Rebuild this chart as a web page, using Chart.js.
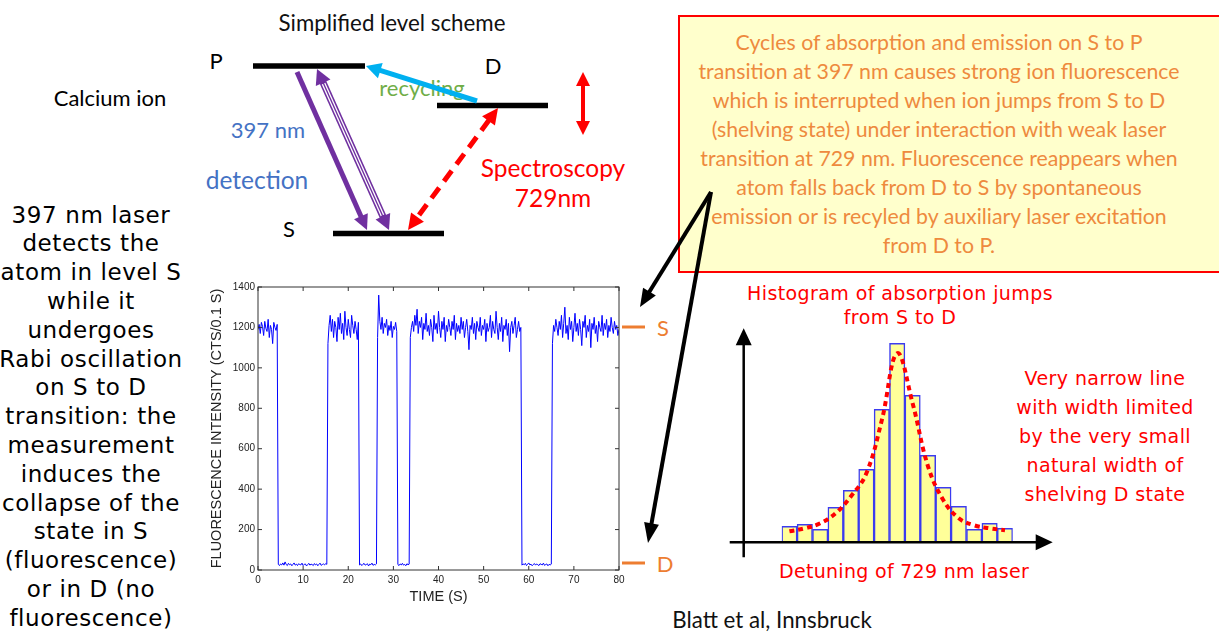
<!DOCTYPE html>
<html>
<head>
<meta charset="utf-8">
<script src="https://cdn.jsdelivr.net/npm/chart.js@4.4.0/dist/chart.umd.min.js"></script>
<style>
  html, body { margin: 0; padding: 0; background: #fff; }
  #slide { position: relative; width: 1219px; height: 632px; overflow: hidden; font-family: Lato, 'Open Sans', sans-serif; }
  .t { position: absolute; transform: translate(-50%, -50%); white-space: nowrap; }
  .block { position: absolute; text-align: center; white-space: nowrap; }
  .comic { font-family: 'DejaVu Sans', sans-serif; }
  #fluorBox { position: absolute; left: 200px; top: 278px; width: 430px; height: 335px; }
  #histBox { position: absolute; left: 725px; top: 320px; width: 340px; height: 245px; }
  #note { position: absolute; left: 678px; top: 15px; width: 560px; height: 258px; background: #ffffcc; border: 2px solid #ff0000; box-sizing: border-box; }
  #overlay { position: absolute; left: 0; top: 0; pointer-events: none; }
</style>
</head>
<body>
<div id="slide">
  <div id="note"></div>
  <div class="block" style="left:639px; top:28px; width:600px; line-height:29px; font-size:21.3px; color:#ee8a3e;">
    Cycles of absorption and emission on S to P<br>
    transition at 397 nm causes strong ion fluorescence<br>
    which is interrupted when ion jumps from S to D<br>
    (shelving state) under interaction with weak laser<br>
    transition at 729 nm. Fluorescence reappears when<br>
    atom falls back from D to S by spontaneous<br>
    emission or is recyled by auxiliary laser excitation<br>
    from D to P.
  </div>

  <div class="t" style="left:392px; top:22px; font-size:22.3px; color:#111;">Simplified level scheme</div>
  <div class="t" style="left:216px; top:60px; font-size:22px;">P</div>
  <div class="t" style="left:493px; top:65px; font-size:22px;">D</div>
  <div class="t" style="left:289px; top:228px; font-size:22px;">S</div>
  <div class="t" style="left:110px; top:97px; font-size:22px;">Calcium ion</div>
  <div class="t" style="left:422px; top:87px; font-size:22px; color:#70ad47;">recycling</div>
  <div class="t" style="left:268px; top:129px; font-size:22px; color:#4472c4;">397 nm</div>
  <div class="t" style="left:257px; top:179px; font-size:24.5px; color:#4472c4;">detection</div>
  <div class="t" style="left:553px; top:167px; font-size:24.5px; color:#ff0000;">Spectroscopy</div>
  <div class="t" style="left:553px; top:197px; font-size:24.5px; color:#ff0000;">729nm</div>

  <div class="block comic" style="left:-9px; top:200.6px; width:200px; line-height:28.8px; font-size:23px; letter-spacing:0.6px; color:#000;">
    397 nm laser<br>detects the<br>atom in level S<br>while it<br>undergoes<br>Rabi oscillation<br>on S to D<br>transition: the<br>measurement<br>induces the<br>collapse of the<br>state in S<br>(fluorescence)<br>or in D (no<br>fluorescence)
  </div>

  <div class="block comic" style="left:740px; top:280.7px; width:320px; line-height:24px; font-size:19px; letter-spacing:0.4px; color:#ff0000;">
    Histogram of absorption jumps<br>from S to D
  </div>
  <div class="block comic" style="left:995px; top:363.5px; width:220px; line-height:29px; font-size:19px; letter-spacing:0.4px; color:#ff0000;">
    Very narrow line<br>with width limited<br>by the very small<br>natural width of<br>shelving D state
  </div>
  <div class="t comic" style="left:904px; top:571px; font-size:19px; letter-spacing:0.3px; color:#ff0000;">Detuning of 729 nm laser</div>
  <div class="t" style="left:772px; top:619px; font-size:22.3px; color:#111;">Blatt et al, Innsbruck</div>

  <div class="t" style="left:663px; top:327px; font-size:22px; color:#ed7d31;">S</div>
  <div class="t" style="left:665px; top:563px; font-size:22px; color:#ed7d31;">D</div>

  <div id="fluorBox"><canvas id="fluorChart"></canvas></div>
  <div id="histBox"><canvas id="histChart"></canvas></div>

  <svg id="overlay" width="1219" height="632" xmlns="http://www.w3.org/2000/svg"></svg>
</div>

<script>
// Fluorescence trace, counts per 0.1 s, sampled every 0.25 s
const sampleStep = 0.25;
const brightA = [1190,1215,1170,1225,1205,1160,1230,1195,1180,1240,1150,1210,1190,1120,1225,1200,1185,1215];
const darkA = [28,22,30,25,35,24,40,27,22,33,26,30,21,28,35,24,29,22,31,27,25,34,22,28,30,20,26,33,24,29,27,22,32,25,30,21,28,34,23,27,30,25,32,28];
const brightB = [1120,1210,1260,1180,1240,1150,1230,1200,1130,1250,1190,1270,1170,1220,1140,1280,1200,1160,1240,1190,1150,1260,1210,1170,1230,1190,1140,1225];
const darkB = [25,30,22,28,33,24,27,31,20,29,26,34,23,28,25,30];
const brightC = [1150,1360,1230,1190,1250,1170,1220,1200,1240,1160,1210,1185,1230,1150,1205,1190,1225,1180];
const darkC = [27,22,30,25,33,24,28,21,31,26,29];
const brightD = [
  1150,1200,1230,1180,1260,1210,1290,1170,1230,1200,1250,1140,1220,1190,1270,1180,1210,1160,1240,1200,
  1130,1260,1190,1220,1170,1280,1200,1150,1230,1190,1250,1130,1210,1180,1240,1200,1160,1230,1190,1260,
  1140,1220,1180,1210,1170,1250,1190,1230,1150,1200,1240,1180,1090,1210,1190,1250,1170,1220,1140,1230,
  1200,1180,1250,1160,1210,1190,1240,1130,1220,1180,1200,1260,1150,1230,1190,1170,1280,1200,1140,1220,
  1180,1250,1130,1210,1190,1240,1160,1220,1080,1200,1230,1170,1210,1250,1150,1190,1230,1180,1200];
const darkD = [24,30,26,33,22,28,35,25,29,21,27,32,24,30,26,22,31,28,25,34,23,27,30,21,28,25,29];
const brightE = [
  1120,1210,1180,1240,1200,1160,1230,1190,1260,1150,1220,1300,1170,1210,1140,1250,1190,1230,1130,1200,
  1270,1180,1220,1160,1240,1190,1110,1230,1200,1260,1150,1210,1180,1240,1100,1220,1190,1250,1170,1210,
  1130,1230,1200,1180,1260,1160,1220,1190,1240,1150,1210,1180,1250,1200,1170,1230,1190,1210,1160,1190];
const yTicks = [0, 200, 400, 600, 800, 1000, 1200, 1400];
const xTicks = [0, 10, 20, 30, 40, 50, 60, 70, 80];

// Histogram of jumps vs detuning
const detuningBins = ['-7','-6','-5','-4','-3','-2','-1','0','1','2','3','4','5','6','7'];
const jumpCounts = [16, 18, 13, 35, 52, 73, 133, 199, 147, 87, 55, 36, 13, 19, 14];
const fitCurve = [11, 14, 19, 29, 46, 69, 122, 189, 139, 76, 42, 24, 17, 14, 12];

Chart.defaults.font.family = "'Liberation Sans', Arial, sans-serif";
Chart.defaults.color = '#222';

const fluorCounts = [].concat(brightA, darkA, brightB, darkB, brightC, darkC, brightD, darkD, brightE);
const fluorPoints = fluorCounts.map((c, i) => ({ x: i * sampleStep, y: c }));

// frame plus inward ticks like the original matlab-style plot
const framePlugin = {
  id: 'frame',
  afterDraw(chart) {
    const { ctx, chartArea: a, scales } = chart;
    ctx.save();
    ctx.strokeStyle = '#333';
    ctx.lineWidth = 1;
    ctx.strokeRect(a.left, a.top, a.right - a.left, a.bottom - a.top);
    const tl = 4;
    ctx.beginPath();
    yTicks.forEach(v => {
      const y = scales.y.getPixelForValue(v);
      ctx.moveTo(a.left, y); ctx.lineTo(a.left + tl, y);
      ctx.moveTo(a.right, y); ctx.lineTo(a.right - tl, y);
    });
    xTicks.forEach(v => {
      const x = scales.x.getPixelForValue(v);
      ctx.moveTo(x, a.bottom); ctx.lineTo(x, a.bottom - tl);
      ctx.moveTo(x, a.top); ctx.lineTo(x, a.top + tl);
    });
    ctx.stroke();
    ctx.restore();
  }
};

new Chart(document.getElementById('fluorChart').getContext('2d'), {
  type: 'line',
  data: {
    datasets: [{
      data: fluorPoints,
      borderColor: '#0000ff',
      borderWidth: 1,
      pointRadius: 0,
      tension: 0
    }]
  },
  options: {
    responsive: true,
    maintainAspectRatio: false,
    animation: false,
    layout: { padding: { left: 0, top: 8, right: 11, bottom: 0 } },
    plugins: { legend: { display: false }, tooltip: { enabled: false } },
    scales: {
      x: {
        type: 'linear',
        min: 0,
        max: 80,
        afterFit: s => { s.height = 43; },
        afterBuildTicks: s => { s.ticks = xTicks.map(v => ({ value: v })); },
        grid: { display: false, drawTicks: false },
        border: { display: false },
        ticks: { padding: 4, font: { size: 10 }, color: '#222', callback: v => String(v) },
        title: { display: true, text: 'TIME (S)', font: { size: 14.5 }, color: '#222', padding: { top: 0, bottom: 7 } }
      },
      y: {
        min: 0,
        max: 1400,
        afterFit: s => { s.width = 58; },
        afterBuildTicks: s => { s.ticks = yTicks.map(v => ({ value: v })); },
        grid: { display: false, drawTicks: false },
        border: { display: false },
        ticks: { padding: 3, font: { size: 10 }, color: '#222', callback: v => String(v) },
        title: { display: true, text: 'FLUORESCENCE INTENSITY (CTS/0.1 S)', font: { size: 14.5 }, color: '#222', padding: { top: 8, bottom: 0 } }
      }
    }
  },
  plugins: [framePlugin]
});

// arrowed axes of the sketched histogram
const histAxes = {
  id: 'histAxes',
  afterDraw(chart) {
    const { ctx, chartArea: a } = chart;
    const base = chart.scales.y.getPixelForValue(0);
    const ax = a.left - 38;
    ctx.save();
    ctx.strokeStyle = '#000';
    ctx.fillStyle = '#000';
    ctx.lineWidth = 2.5;
    ctx.beginPath();
    ctx.moveTo(ax, base + 15); ctx.lineTo(ax, a.top + 2);
    ctx.moveTo(a.left - 52, base); ctx.lineTo(a.right + 26, base);
    ctx.stroke();
    ctx.beginPath();
    ctx.moveTo(ax, a.top - 14); ctx.lineTo(ax - 8, a.top + 3); ctx.lineTo(ax + 8, a.top + 3); ctx.closePath();
    ctx.moveTo(a.right + 40, base); ctx.lineTo(a.right + 23, base - 8); ctx.lineTo(a.right + 23, base + 8); ctx.closePath();
    ctx.fill();
    ctx.restore();
  }
};

new Chart(document.getElementById('histChart').getContext('2d'), {
  type: 'bar',
  data: {
    labels: detuningBins,
    datasets: [{
      type: 'line',
      data: fitCurve,
      borderColor: '#ff0000',
      borderWidth: 4,
      borderDash: [5, 4],
      pointRadius: 0,
      tension: 0.4,
      order: 0
    }, {
      type: 'bar',
      data: jumpCounts,
      backgroundColor: '#ffff99',
      borderColor: '#3b3bf0',
      borderWidth: 1.5,
      borderSkipped: false,
      barPercentage: 1,
      categoryPercentage: 1,
      order: 1
    }]
  },
  options: {
    responsive: true,
    maintainAspectRatio: false,
    animation: false,
    layout: { padding: { left: 56.7, right: 52.3, top: 22.3, bottom: 22.7 } },
    plugins: { legend: { display: false }, tooltip: { enabled: false } },
    scales: {
      x: { display: false, offset: true },
      y: { display: false, min: 0, max: 200 }
    }
  },
  plugins: [histAxes]
});

// level scheme and pointer arrows
const svg = document.getElementById('overlay');
const NS = 'http://www.w3.org/2000/svg';
function el(name, attrs) {
  const e = document.createElementNS(NS, name);
  for (const k in attrs) e.setAttribute(k, attrs[k]);
  svg.appendChild(e);
  return e;
}
function seg(x1, y1, x2, y2, color, w, dash) {
  const a = { x1, y1, x2, y2, stroke: color, 'stroke-width': w };
  if (dash) a['stroke-dasharray'] = dash;
  return el('line', a);
}
function arrow(o) {
  const dx = o.x2 - o.x1, dy = o.y2 - o.y1, len = Math.hypot(dx, dy);
  const ux = dx / len, uy = dy / len, px = -uy, py = ux;
  let sx = o.x1, sy = o.y1, ex = o.x2, ey = o.y2;
  const heads = [];
  if (o.end) { ex -= ux * o.hl; ey -= uy * o.hl; heads.push([o.x2, o.y2, ex, ey]); }
  if (o.start) { sx += ux * o.hl; sy += uy * o.hl; heads.push([o.x1, o.y1, sx, sy]); }
  const ov = 1;
  const lsx = o.start ? sx - ux * ov : sx, lsy = o.start ? sy - uy * ov : sy;
  const lex = o.end ? ex + ux * ov : ex, ley = o.end ? ey + uy * ov : ey;
  if (o.triple) {
    seg(lsx, lsy, lex, ley, o.color, o.w);
    seg(lsx + ux * 2, lsy + uy * 2, lex - ux * 2, ley - uy * 2, '#fff', o.w * 0.55);
    seg(lsx, lsy, lex, ley, o.color, o.w * 0.2);
  } else {
    seg(lsx, lsy, lex, ley, o.color, o.w, o.dash);
  }
  heads.forEach(([tx, ty, bx, by]) => {
    const h = o.hw / 2;
    el('polygon', { points: `${tx},${ty} ${bx + px * h},${by + py * h} ${bx - px * h},${by - py * h}`, fill: o.color });
  });
}

// levels
seg(253, 66, 365, 66, '#000', 5.5);
seg(437, 105.5, 548, 105.5, '#000', 5.5);
seg(333, 233.5, 444, 233.5, '#000', 5.5);

arrow({ x1: 297, y1: 72, x2: 367, y2: 230, color: '#7030a0', w: 5, hl: 15, hw: 15, end: true });
arrow({ x1: 317, y1: 69, x2: 389, y2: 230, color: '#7030a0', w: 7, hl: 15, hw: 16, end: true, start: true, triple: true });
arrow({ x1: 477, y1: 101, x2: 366, y2: 66, color: '#00b0f0', w: 5, hl: 15, hw: 16, end: true });
arrow({ x1: 498, y1: 108, x2: 408, y2: 230, color: '#ff0000', w: 5, hl: 16, hw: 16, end: true, start: true, dash: '13 8' });
arrow({ x1: 583, y1: 72, x2: 583, y2: 135, color: '#ff0000', w: 4, hl: 14, hw: 14, end: true, start: true });
arrow({ x1: 711, y1: 192, x2: 640, y2: 307, color: '#000', w: 4, hl: 18, hw: 15, end: true });
arrow({ x1: 711, y1: 192, x2: 648, y2: 543, color: '#000', w: 4, hl: 20, hw: 15, end: true });

// S / D markers next to the trace
seg(622, 327, 645, 327, '#ed7d31', 3);
seg(622, 563, 645, 563, '#ed7d31', 3);
</script>
</body>
</html>
